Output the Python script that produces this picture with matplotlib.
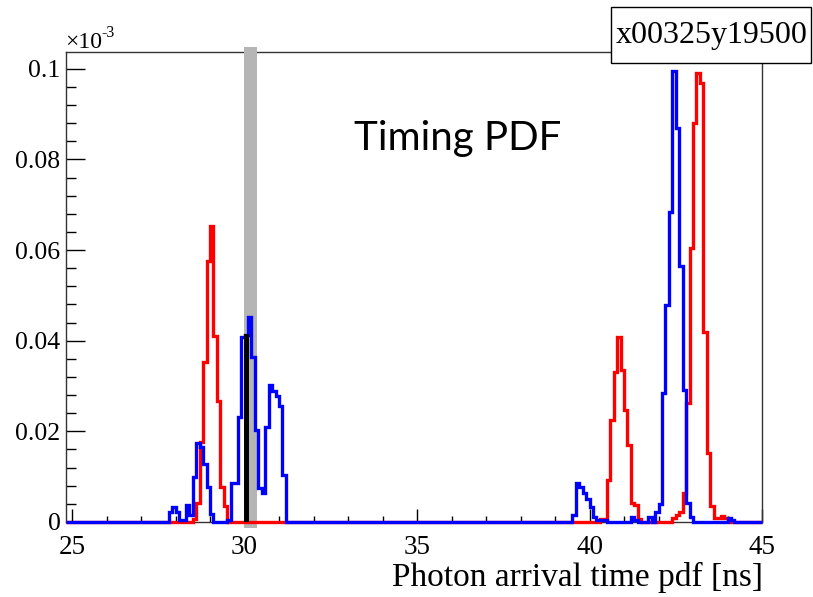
import numpy as np
import matplotlib
matplotlib.use("Agg")
import matplotlib.pyplot as plt
from matplotlib.patches import Rectangle

# ---- binning of the timing histograms (ns) ----
bin_width = 0.1
t_low, t_high = 24.8, 45.0

# ---- PDF contents (in units of 1e-3); each run starts at the given bin low edge ----
blue_run1_start = 27.8
blue_run1 = [0.0021, 0.0032, 0.0021, 0.0005, 0.0004, 0.0038, 0.0015, 0.0100,
             0.0175, 0.0165, 0.0128, 0.0078, 0.0018]
blue_run2_start = 29.5
blue_run2 = [0.0004, 0.0085, 0.0085, 0.0232, 0.0408, 0.0413, 0.0453, 0.0365,
             0.0203, 0.0074, 0.0063, 0.0210, 0.0302, 0.0290, 0.0277, 0.0255,
             0.0104]
blue_run3_start = 39.5
blue_run3 = [0.0015, 0.0085, 0.0078, 0.0065, 0.0050, 0.0034, 0.0012, 0.0005,
             0.0005, 0.0004]
blue_run4_start = 41.2
blue_run4 = [0.0010, 0.0005, 0.0, 0.0, 0.0, 0.0010, 0.0, 0.0023, 0.0039,
             0.0284, 0.0479, 0.0683, 0.0994, 0.0869, 0.0564, 0.0291, 0.0043,
             0.0012]
blue_run5_start = 44.0
blue_run5 = [0.0008, 0.0004]

red_run1_start = 28.5
red_run1 = [0.0006, 0.0041, 0.0177, 0.0354, 0.0575, 0.0653, 0.0410, 0.0266,
            0.0078, 0.0035]
red_run2_start = 40.3
red_run2 = [0.0006, 0.0006, 0.0093, 0.0225, 0.0330, 0.0409, 0.0336, 0.0247,
            0.0170, 0.0043, 0.0038, 0.0007]
red_run3_start = 42.4
red_run3 = [0.0008, 0.0015, 0.0023, 0.0063, 0.0262, 0.0604, 0.0880, 0.0990,
            0.0968, 0.0420, 0.0152, 0.0035, 0.0008, 0.0008, 0.0013, 0.0008,
            0.0005]

# measured hit: time bin and PDF value, plus its time window
hit_time = 30.0
hit_pdf = 0.0413
window_low, window_high = 29.98, 30.35

pixel_label = "x00325y19500"
x_title = "Photon arrival time pdf [ns]"
plot_title = "Timing PDF"
x_major = [25, 30, 35, 40, 45]
y_major = [0, 0.02, 0.04, 0.06, 0.08, 0.1]
y_major_labels = ["0", "0.02", "0.04", "0.06", "0.08", "0.1"]

x_left = 24.826
edges = np.round(np.arange(t_low, t_high + bin_width / 2, bin_width), 2)
edges[0] = x_left


def build(runs):
    h = np.zeros(len(edges) - 1)
    for start, vals in runs:
        i0 = int(round((start - t_low) / bin_width))
        h[i0:i0 + len(vals)] = vals
    return h


blue = build([(blue_run1_start, blue_run1), (blue_run2_start, blue_run2),
              (blue_run3_start, blue_run3), (blue_run4_start, blue_run4),
              (blue_run5_start, blue_run5)])
red = build([(red_run1_start, red_run1), (red_run2_start, red_run2),
             (red_run3_start, red_run3)])

W, H = 813, 597
fig = plt.figure(figsize=(W / 100, H / 100), dpi=100)
serif = "Liberation Serif"

ax_l, ax_r, ax_t, ax_b = 66, 762, 52, 522
ax = fig.add_axes([ax_l / W, 1 - ax_b / H, (ax_r - ax_l) / W, (ax_b - ax_t) / H])
ax.set_xlim(x_left, 45.0)
ax.set_ylim(0, 0.1037)

# time window band (extends a little past the frame)
band = Rectangle((window_low, -0.012), window_high - window_low, 1.022,
                 transform=ax.get_xaxis_transform(), facecolor="#b5b5b5",
                 edgecolor="none", zorder=2.6, clip_on=False)
ax.add_patch(band)

ax.stairs(red, edges, color="#ff0000", lw=2.4, zorder=3, clip_on=False)
ax.stairs(blue, edges, color="#0000ff", lw=2.4, zorder=3.1, clip_on=False)
ax.bar(hit_time + bin_width / 2, hit_pdf, width=bin_width, color="black",
       edgecolor="black", lw=1.4, zorder=3.2)

for s in ax.spines.values():
    s.set_linewidth(1.0)
    s.set_color("#333333")

ax.set_xticks(x_major)
ax.set_xticks(np.arange(25, 46, 1), minor=True)
ax.set_yticks(y_major)
ax.set_yticklabels(y_major_labels)
ax.set_yticks(np.arange(0, 0.1001, 0.004), minor=True)
ax.tick_params(axis="x", which="major", direction="in", length=9.5, width=1,
               pad=9, labelsize=19.5)
ax.tick_params(axis="x", which="minor", direction="in", length=4.5, width=1)
ax.tick_params(axis="y", which="major", direction="in", length=14, width=1,
               pad=4, labelsize=18.5)
ax.tick_params(axis="y", which="minor", direction="in", length=7, width=1)
for lab in ax.get_xticklabels() + ax.get_yticklabels():
    lab.set_fontfamily(serif)

# exponent marker of the y axis
fig.text(65 / W, 1 - 48 / H, "\u00d710", fontsize=17, family=serif,
         ha="left", va="baseline")
fig.text(101 / W, 1 - 37 / H, "-3", fontsize=11.5, family=serif,
         ha="left", va="baseline")

fig.text(763 / W, 1 - 577 / H, x_title, fontsize=24, family=serif,
         ha="right", va="center")

# pixel label box in the top-right corner
box = Rectangle((611 / W, 1 - 63 / H), (811 - 611) / W, (63 - 7) / H,
                transform=fig.transFigure, facecolor="white",
                edgecolor="black", lw=1.0, zorder=10)
fig.patches.append(box)
fig.text(712 / W, 1 - 35 / H, pixel_label, fontsize=23, family=serif,
         ha="center", va="center", zorder=11)

ax.text(0.562, 0.815, plot_title, transform=ax.transAxes, fontsize=29,
        family="Lato", ha="center", va="center", zorder=5)

fig.savefig("out.png", dpi=100)
